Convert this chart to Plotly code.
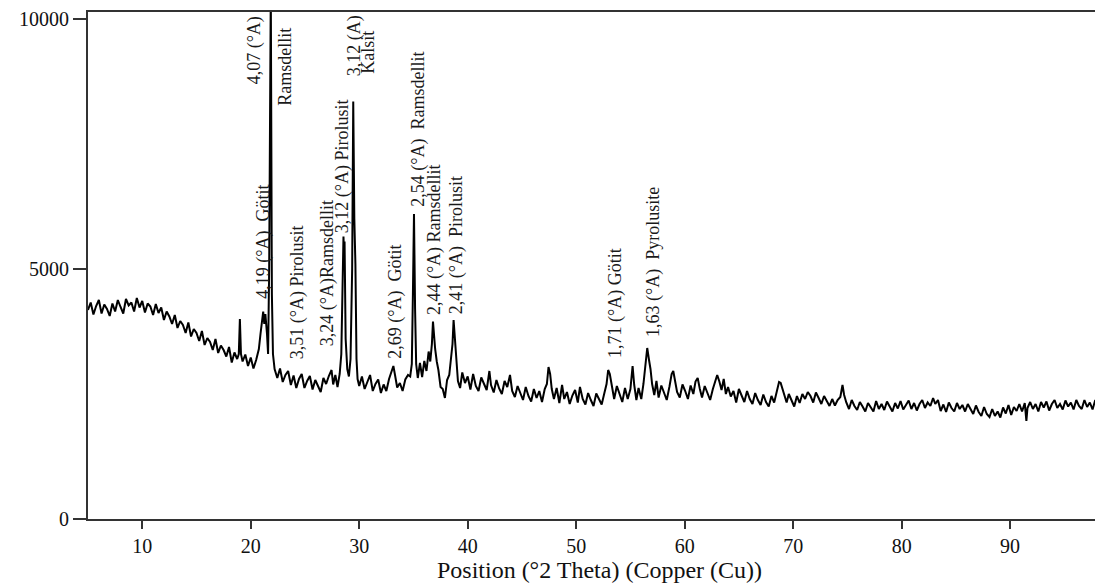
import plotly.graph_objects as go

# 2-theta positions (degrees) and intensities (counts)
two_theta = [
    5.0, 5.25, 5.5, 5.75, 6.0, 6.25, 6.5, 6.75, 7.0, 7.25,
    7.5, 7.75, 8.0, 8.25, 8.5, 8.75, 9.0, 9.25, 9.5, 9.75,
    10.0, 10.25, 10.5, 10.75, 11.0, 11.25, 11.5, 11.75, 12.0, 12.25,
    12.5, 12.75, 13.0, 13.25, 13.5, 13.75, 14.0, 14.25, 14.5, 14.75,
    15.0, 15.25, 15.5, 15.75, 16.0, 16.25, 16.5, 16.75, 17.0, 17.25,
    17.5, 17.75, 18.0, 18.25, 18.5, 18.75, 18.9, 19.0, 19.1, 19.25,
    19.5, 19.75, 20.0, 20.25, 20.5, 20.75, 20.9, 21.05, 21.15, 21.25,
    21.35, 21.5, 21.6, 21.7, 21.75, 21.8, 21.85, 21.95, 22.05, 22.2,
    22.45, 22.7, 22.95, 23.2, 23.45, 23.7, 23.95, 24.2, 24.45, 24.7,
    24.95, 25.2, 25.45, 25.7, 25.95, 26.2, 26.45, 26.7, 26.95, 27.2,
    27.45, 27.6, 27.8, 28.0, 28.2, 28.35, 28.45, 28.55, 28.6, 28.65,
    28.75, 28.9, 29.05, 29.2, 29.35, 29.45, 29.55, 29.65, 29.75, 29.85,
    30.0, 30.25, 30.5, 30.75, 31.0, 31.25, 31.5, 31.75, 32.0, 32.25,
    32.5, 32.75, 33.0, 33.15, 33.3, 33.5, 33.75, 34.0, 34.25, 34.5,
    34.7, 34.85, 34.95, 35.05, 35.15, 35.25, 35.4, 35.6, 35.8, 36.0,
    36.2, 36.4, 36.55, 36.7, 36.8, 36.9, 37.0, 37.15, 37.3, 37.5,
    37.7, 37.9, 38.1, 38.3, 38.45, 38.6, 38.7, 38.8, 38.95, 39.1,
    39.3, 39.5, 39.75, 40.0, 40.25, 40.5, 40.75, 41.0, 41.25, 41.5,
    41.75, 42.0, 42.15, 42.4, 42.65, 42.9, 43.15, 43.4, 43.65, 43.9,
    44.1, 44.35, 44.6, 44.85, 45.1, 45.35, 45.6, 45.85, 46.1, 46.35,
    46.6, 46.85, 47.1, 47.3, 47.45, 47.6, 47.75, 47.95, 48.2, 48.45,
    48.7, 48.9, 49.15, 49.4, 49.65, 49.9, 50.15, 50.35, 50.6, 50.85,
    51.1, 51.35, 51.6, 51.85, 52.1, 52.35, 52.6, 52.8, 52.95, 53.1,
    53.3, 53.5, 53.75, 54.0, 54.25, 54.5, 54.75, 55.0, 55.2, 55.35,
    55.55, 55.75, 56.0, 56.2, 56.4, 56.55, 56.7, 56.85, 57.0, 57.2,
    57.4, 57.6, 57.85, 58.1, 58.35, 58.6, 58.8, 58.95, 59.1, 59.3,
    59.55, 59.8, 60.05, 60.3, 60.55, 60.8, 61.0, 61.2, 61.4, 61.6,
    61.85, 62.1, 62.35, 62.6, 62.85, 63.0, 63.2, 63.4, 63.6, 63.8,
    64.0, 64.25, 64.5, 64.75, 65.0, 65.25, 65.5, 65.75, 66.0, 66.25,
    66.5, 66.75, 67.0, 67.25, 67.5, 67.75, 68.0, 68.25, 68.5, 68.7,
    68.85, 69.0, 69.2, 69.4, 69.6, 69.85, 70.1, 70.35, 70.6, 70.85,
    71.1, 71.35, 71.6, 71.85, 72.1, 72.35, 72.6, 72.85, 73.1, 73.35,
    73.6, 73.85, 74.1, 74.35, 74.55, 74.7, 74.9, 75.15, 75.4, 75.65,
    75.9, 76.15, 76.4, 76.65, 76.9, 77.15, 77.4, 77.65, 77.9, 78.15,
    78.4, 78.65, 78.9, 79.15, 79.4, 79.65, 79.9, 80.15, 80.4, 80.65,
    80.9, 81.15, 81.4, 81.65, 81.9, 82.15, 82.4, 82.65, 82.9, 83.1,
    83.35, 83.6, 83.85, 84.1, 84.35, 84.6, 84.85, 85.1, 85.35, 85.6,
    85.85, 86.1, 86.35, 86.6, 86.85, 87.1, 87.35, 87.6, 87.85, 88.1,
    88.35, 88.6, 88.85, 89.1, 89.35, 89.6, 89.85, 90.1, 90.35, 90.6,
    90.85, 91.1, 91.35, 91.5, 91.6, 91.85, 92.1, 92.35, 92.6, 92.85,
    93.1, 93.35, 93.6, 93.85, 94.1, 94.35, 94.6, 94.85, 95.1, 95.35,
    95.6, 95.85, 96.1, 96.35, 96.6, 96.85, 97.1, 97.35, 97.6, 97.85,
    98.1, 98.35, 98.6, 98.85, 99.1, 99.35, 99.6,
]
counts = [
    4180, 4330, 4090, 4260, 4380, 4110, 4290, 4200, 4060, 4310,
    4150, 4380, 4240, 4110, 4400, 4270, 4330, 4150, 4420, 4230,
    4360, 4130, 4310, 4250, 4080, 4300, 4120, 4230, 3980, 4150,
    4050, 3900, 4080, 3820, 3960, 3880, 3720, 3930, 3650, 3800,
    3720, 3560, 3760, 3480, 3620, 3540, 3380, 3600, 3320, 3470,
    3380, 3250, 3440, 3130, 3330, 3200, 3300, 4000, 3300, 3150,
    3290, 3060, 3230, 3010, 3180, 3400, 3700, 3950, 4150, 3900,
    4100, 3700, 3300, 5000, 8000, 7900, 10600, 4500, 3300, 3000,
    2820, 3010, 2740, 2880, 2960, 2680, 2870, 2620, 2800, 2900,
    2620, 2760, 2860, 2590, 2780, 2660, 2540, 2820, 2700, 2860,
    2980, 2690, 2880, 2640, 2900, 3300, 4200, 5650, 5300, 5550,
    3600, 3000, 2850, 3200, 5000, 8350, 6000, 5100, 3200, 2800,
    2660, 2850, 2600, 2740, 2880, 2560, 2700, 2790, 2520, 2690,
    2560, 2800, 2950, 3060, 2880, 2630, 2720, 2560, 2790, 2880,
    2850, 3100, 4500, 6100, 4200, 3100, 2820, 3120, 2840, 3160,
    2960, 3350, 3150, 3500, 3950, 3600, 3400, 3150, 2980, 2640,
    2600, 2420, 2780, 2880, 3200, 3500, 3980, 3700, 3100, 2760,
    2620, 2930, 2720, 2850, 2590, 2900, 2660, 2560, 2830, 2700,
    2580, 2960, 2680, 2530, 2780, 2610, 2500, 2760, 2640, 2880,
    2560, 2440, 2660, 2520, 2380, 2640, 2460, 2350, 2600, 2420,
    2560, 2340, 2600, 2700, 3040, 2900, 2600, 2400, 2620, 2320,
    2680, 2400, 2540, 2300, 2470, 2580, 2330, 2640, 2400, 2290,
    2520, 2380, 2260, 2510, 2400, 2290, 2520, 2700, 2980, 2900,
    2650, 2400, 2660, 2520, 2340, 2620, 2400, 2600, 3060, 2680,
    2380, 2620, 2400, 2700, 3100, 3420, 3200, 3000, 2700, 2480,
    2760, 2430, 2670, 2520, 2380, 2650, 2900, 2960, 2750, 2540,
    2430, 2690, 2560, 2400, 2670, 2500, 2750, 2820, 2600, 2430,
    2660, 2520, 2380, 2600, 2750, 2880, 2750, 2580, 2800, 2500,
    2640, 2450, 2560, 2330, 2600, 2470, 2340, 2560, 2400, 2300,
    2520, 2380, 2280, 2490, 2340, 2250, 2460, 2330, 2550, 2740,
    2720, 2600, 2450, 2330, 2500, 2380, 2250, 2460, 2320, 2500,
    2400, 2540, 2460, 2330, 2530, 2420, 2300, 2460, 2350, 2260,
    2400, 2270, 2380, 2440, 2680, 2480, 2330, 2200, 2380, 2260,
    2180, 2340, 2250, 2150, 2320, 2230, 2150, 2360, 2200, 2300,
    2180, 2350, 2260, 2150, 2320, 2210, 2360, 2190, 2280, 2370,
    2200, 2320, 2170, 2300, 2380, 2220, 2330, 2260, 2420, 2300,
    2380, 2160, 2290, 2140, 2330, 2220, 2150, 2320, 2200, 2280,
    2150, 2300, 2200, 2100, 2270, 2140, 2060, 2240, 2100, 2040,
    2200, 2060, 2150, 2030, 2230, 2110, 2280, 2080, 2240, 2160,
    2300, 2150, 2320, 1960, 2220, 2340, 2200, 2300, 2150, 2340,
    2230, 2350, 2170, 2300, 2380, 2220, 2300, 2190, 2370, 2250,
    2330, 2190, 2380, 2260, 2200, 2380, 2240, 2330, 2190, 2380,
    2260, 2360, 2200, 2370, 2250, 2380, 2300,
]
assert len(two_theta) == len(counts)

x_ticks = [10, 20, 30, 40, 50, 60, 70, 80, 90]
y_ticks = [0, 5000, 10000]
y_tick_text = ["0", "5000", "10000"]

# peak labels: (text, 2-theta position, intensity position)
peak_labels = [
    ("4,07 (°A)", 20.38, 9370),
    ("Ramsdellit", 23.14, 9040),
    ("4,19 (°A)\u00a0\u00a0Götit", 21.11, 5540),
    ("3,51 (°A) Pirolusit", 24.34, 4530),
    ("3,24 (°A)Ramsdellit", 27.10, 4910),
    ("3,12 (°A) Pirolusit", 28.48, 7050),
    ("3,12 (A)", 29.59, 9470),
    ("Kalsit", 30.78, 9340),
    ("2,69 (°A)\u00a0\u00a0Götit", 33.27, 4340),
    ("2,54 (°A)\u00a0\u00a0Ramsdellit", 35.39, 7800),
    ("2,44 (°A) Ramsdellit", 36.95, 5590),
    ("2,41 (°A)\u00a0\u00a0Pirolusit", 38.98, 5470),
    ("1,71 (°A) Götit", 53.62, 4330),
    ("1,63 (°A)\u00a0\u00a0Pyrolusite", 57.12, 5150),
]

serif = "Liberation Serif, Times New Roman, serif"

fig = go.Figure()
fig.add_trace(go.Scatter(
    x=two_theta, y=counts, mode="lines",
    line=dict(color="black", width=2),
    showlegend=False, hoverinfo="skip",
))

for text, px, py in peak_labels:
    fig.add_annotation(
        x=px, y=py, xref="x", yref="y", text=text, showarrow=False,
        textangle=-90, xanchor="center", yanchor="middle",
        font=dict(family=serif, size=18, color="#1a1a1a"),
    )

fig.update_layout(
    width=1103, height=585,
    margin=dict(l=80, r=0, t=4, b=74, autoexpand=False),
    paper_bgcolor="white", plot_bgcolor="white",
    font=dict(family=serif, color="#111"),
    xaxis=dict(
        range=[5, 99.3], tickvals=x_ticks, ticks="outside", ticklen=8,
        tickwidth=2, tickcolor="#333", showline=True, linewidth=2,
        linecolor="#333", mirror=True, showgrid=False, zeroline=False,
        automargin=False,
        tickfont=dict(family=serif, size=20, color="#111"),
        title=dict(text="Position (°2 Theta) (Copper (Cu))",
                   font=dict(family=serif, size=24, color="#111"), standoff=4),
    ),
    yaxis=dict(
        range=[0, 10140], tickvals=y_ticks, ticktext=y_tick_text,
        ticks="outside", ticklen=13,
        tickwidth=2, tickcolor="#333", showline=True, linewidth=2,
        linecolor="#333", showgrid=False, zeroline=False, automargin=False,
        tickfont=dict(family=serif, size=20, color="#111"),
    ),
)

fig.write_html("out.html")
